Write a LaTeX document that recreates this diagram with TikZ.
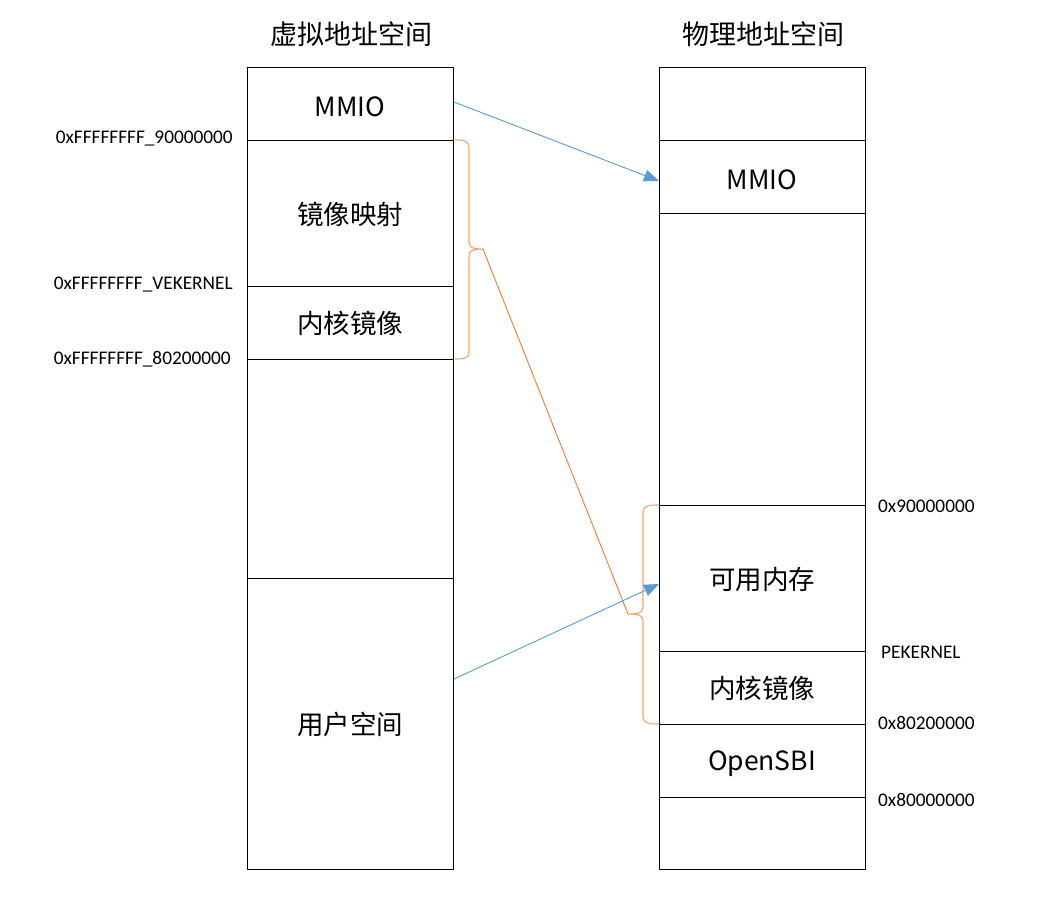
\documentclass[tikz,border=0pt]{standalone}
\usepackage{fontspec}
\setmainfont{Noto Sans CJK SC}
\newfontfamily\addrfont{Carlito}
\usetikzlibrary{arrows.meta}
\definecolor{mapblue}{HTML}{5B9BD5}
\definecolor{maporange}{HTML}{ED7D31}
\definecolor{braceorange}{HTML}{F4A470}
\begin{document}
\begin{tikzpicture}[x=1pt,y=-1pt,
  seg/.style={draw=black,line width=0.9pt,minimum width=206pt,inner sep=0pt},
  lab/.style={inner sep=0pt,font=\fontsize{26.5}{30}\selectfont},
  ttl/.style={font=\fontsize{27}{30}\selectfont},
  addr/.style={font=\addrfont\fontsize{19.3}{21}\selectfont,inner sep=0pt},
  maparrow/.style={draw=mapblue,line width=0.9pt,-{Triangle[length=15pt,width=12pt]}},
  bracepath/.style={draw=braceorange,line width=1.1pt},
  mapline/.style={draw=maporange,line width=0.9pt}]
\useasboundingbox (0,0) rectangle (1050,900);
% titles
\node[ttl] (vtitle) at (351,34) {虚拟地址空间};
\node[ttl] (ptitle) at (763,34) {物理地址空间};
% virtual segments
\node[seg,minimum height=73pt] (vmmio) at (350,103.5) {};
\node[seg,minimum height=146pt] (vmirror) at (350,213) {};
\node[seg,minimum height=73pt] (vkernel) at (350,322.5) {};
\node[seg,minimum height=219pt] (vempty) at (350,468.5) {};
\node[seg,minimum height=291pt] (vuser) at (350,723.5) {};
\node[lab] (lvmmio) at ([yshift=-3pt]vmmio.center) {MMIO};
\node[lab] (lvmirror) at ([yshift=-1pt]vmirror.center) {镜像映射};
\node[lab] (lvkernel) at ([yshift=-1pt]vkernel.center) {内核镜像};
\node[lab] (lvuser) at ([yshift=-1pt]vuser.center) {用户空间};
% physical segments
\node[seg,minimum height=73pt] (ptop) at (762,103.5) {};
\node[seg,minimum height=73pt] (pmmio) at (762,176.5) {};
\node[seg,minimum height=292pt] (pempty) at (762,359) {};
\node[seg,minimum height=146pt] (pmem) at (762,578) {};
\node[seg,minimum height=73pt] (pkernel) at (762,687.5) {};
\node[seg,minimum height=73pt] (psbi) at (762,760.5) {};
\node[seg,minimum height=72pt] (pbottom) at (762,833) {};
\node[lab] (lpmmio) at ([yshift=-3pt]pmmio.center) {MMIO};
\node[lab] (lpmem) at ([yshift=-1pt]pmem.center) {可用内存};
\node[lab] (lpkernel) at ([yshift=-1pt]pkernel.center) {内核镜像};
\node[lab] (lpsbi) at ([yshift=-3pt]psbi.center) {OpenSBI};
% address labels
\node[addr,anchor=east] (a1) at (233,139) {0xFFFFFFFF\_90000000};
\node[addr,anchor=east] (a2) at (233,285) {0xFFFFFFFF\_VEKERNEL};
\node[addr,anchor=east] (a3) at (231,359) {0xFFFFFFFF\_80200000};
\node[addr,anchor=west] (b1) at (878,506) {0x90000000};
\node[addr,anchor=west] (b2) at (881,652) {PEKERNEL};
\node[addr,anchor=west] (b3) at (878,723) {0x80200000};
\node[addr,anchor=west] (b4) at (878,800) {0x80000000};
% braces
\coordinate (lbtip) at (483,249);
\coordinate (rbtip) at (628,614);
\draw[bracepath] (455,140) .. controls (465,140) and (469,141) .. (469,148) -- (469,242)
  .. controls (469,247) and (472,249) .. (lbtip)
  .. controls (472,249) and (469,251) .. (469,256) -- (469,352)
  .. controls (469,358) and (465,359) .. (455,359);
\draw[bracepath] (659,505) .. controls (649,505) and (643,506) .. (643,512) -- (643,607)
  .. controls (643,612) and (640,614) .. (rbtip)
  .. controls (640,614) and (643,616) .. (643,621) -- (643,717)
  .. controls (643,723) and (649,724) .. (659,724);
\draw[mapline] (lbtip) -- (rbtip);
% blue arrows
\coordinate (s1) at (454,102);
\coordinate (e1) at (659,181);
\coordinate (s2) at (454,679);
\coordinate (e2) at (659,584);
\draw[maparrow] (s1) -- (e1);
\draw[maparrow] (s2) -- (e2);
\end{tikzpicture}
\end{document}
